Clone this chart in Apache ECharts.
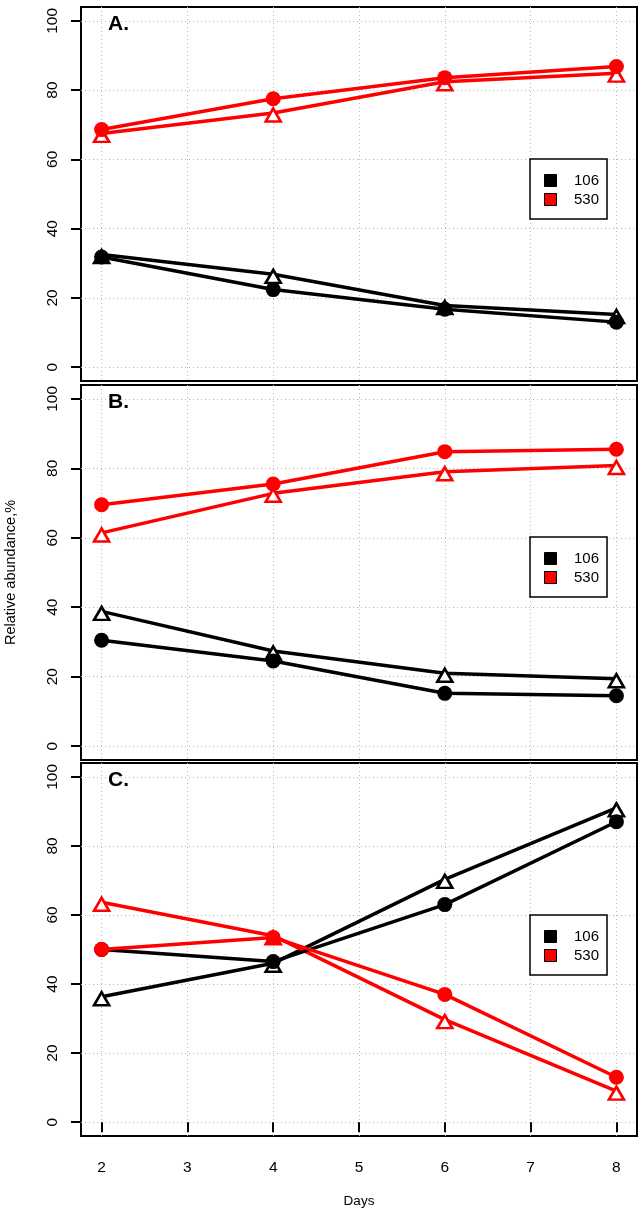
<!DOCTYPE html>
<html>
<head>
<meta charset="utf-8">
<script src="https://cdn.jsdelivr.net/npm/echarts@6/dist/echarts.min.js"></script>
<style>
  html, body { margin: 0; padding: 0; background: #fff; }
  #chart { width: 644px; height: 1222px; }
</style>
</head>
<body>
<div id="chart"></div>
<script>
// ---- data ----
const days = [2, 4, 6, 8];
const xTicks = [2, 3, 4, 5, 6, 7, 8];
const yTicks = [0, 20, 40, 60, 80, 100];
const panelLabels = ['A.', 'B.', 'C.'];
const legendNames = ['106', '530'];

// Panel A
const a106Circle   = [31.8, 22.4, 16.7, 13.0];
const a106Triangle = [32.5, 26.8, 17.8, 15.2];
const a530Circle   = [68.6, 77.5, 83.6, 86.8];
const a530Triangle = [67.5, 73.4, 82.4, 84.9];
// Panel B
const b106Circle   = [30.5, 24.5, 15.2, 14.5];
const b106Triangle = [38.8, 27.4, 21.0, 19.4];
const b530Circle   = [69.5, 75.5, 84.8, 85.5];
const b530Triangle = [61.4, 72.8, 79.0, 80.8];
// Panel C
const c106Circle   = [50.0, 46.5, 63.0, 87.0];
const c106Triangle = [36.3, 46.0, 70.3, 91.0];
const c530Circle   = [50.0, 53.5, 37.0, 13.0];
const c530Triangle = [63.7, 54.0, 29.7, 9.0];

const yTitle = 'Relative abundance,%';
const xTitle = 'Days';

// ---- layout / style ----
const FONT = "'Liberation Sans', Arial, Helvetica, sans-serif";
const colors = { '106': '#000000', '530': '#ff0000' };
const gridTops = [7, 385, 763];
const gridHeights = [374, 375, 373];
const panels = [
  { c106: a106Circle, t106: a106Triangle, c530: a530Circle, t530: a530Triangle },
  { c106: b106Circle, t106: b106Triangle, c530: b530Circle, t530: b530Triangle },
  { c106: c106Circle, t106: c106Triangle, c530: c530Circle, t530: c530Triangle }
];

const gridLine = { show: true, lineStyle: { color: '#b8b8b8', width: 1, type: [1, 3] } };

const grids = [], xAxes = [], yAxes = [], series = [], legends = [], graphics = [];
panels.forEach((p, i) => {
  grids.push({ left: 81, right: 7, top: gridTops[i], height: gridHeights[i],
    outerBoundsMode: 'none', containLabel: false,
    show: true, borderColor: '#000', borderWidth: 2, backgroundColor: 'transparent' });
  xAxes.push({
    gridIndex: i, type: 'value', min: 1.76, max: 8.24,
    axisLine: { show: false },
    axisTick: { show: i === 2, length: 10, lineStyle: { color: '#000', width: 2 }, customValues: xTicks },
    axisLabel: { show: i === 2, customValues: xTicks, margin: 24, fontSize: 15.5, color: '#000', fontFamily: FONT },
    splitLine: gridLine,
    name: i === 2 ? xTitle : '', nameLocation: 'middle', nameGap: 58,
    nameTextStyle: { fontSize: 13.5, color: '#000', fontFamily: FONT }
  });
  yAxes.push({
    gridIndex: i, type: 'value', min: -4, max: 104,
    axisLine: { show: false },
    axisTick: { show: true, length: 10, lineStyle: { color: '#000', width: 2 }, customValues: yTicks },
    axisLabel: { customValues: yTicks, rotate: 90, margin: 20, fontSize: 15.5, color: '#000', fontFamily: FONT },
    splitLine: gridLine,
    name: i === 1 ? yTitle : '', nameLocation: 'middle', nameGap: 63, nameRotate: 90,
    nameTextStyle: { fontSize: 14.5, color: '#000', fontFamily: FONT }
  });
  const mk = (name, vals, shape) => {
    const col = colors[name];
    const s = {
      type: 'line', name: name, xAxisIndex: i, yAxisIndex: i,
      data: days.map((d, k) => [d, vals[k]]),
      symbol: shape, showSymbol: true, silent: true,
      lineStyle: { color: col, width: 3.5 },
      emphasis: { disabled: true }
    };
    if (shape === 'circle') {
      s.symbolSize = 15;
      s.itemStyle = { color: col, borderWidth: 0 };
      s.z = 4;
    } else {
      s.symbolSize = [15, 13];
      s.symbolOffset = [0, 2];
      s.itemStyle = { color: '#fff', borderColor: col, borderWidth: 2.6 };
      s.z = 3;
    }
    return s;
  };
  series.push(mk('106', p.t106, 'triangle'));
  series.push(mk('530', p.t530, 'triangle'));
  series.push(mk('106', p.c106, 'circle'));
  series.push(mk('530', p.c530, 'circle'));

  legends.push({
    orient: 'vertical', left: 530, top: gridTops[i] + 152,
    data: legendNames.map(n => ({ name: n, icon: 'rect',
      itemStyle: { color: colors[n], borderColor: '#000', borderWidth: 1 } })),
    itemWidth: 12, itemHeight: 12, itemGap: 4,
    padding: [14, 8, 12, 14],
    borderColor: '#000', borderWidth: 1.5, backgroundColor: '#fff',
    textStyle: { fontSize: 15, color: '#000', fontFamily: FONT },
    formatter: n => '   ' + n,
    selectedMode: false, z: 10
  });

  graphics.push({
    type: 'text', left: 108, top: gridTops[i] + 7,
    style: { text: panelLabels[i], fontSize: 21, fontWeight: 'bold', fill: '#000', fontFamily: FONT },
    z: 20
  });
});

const chart = echarts.init(document.getElementById('chart'), null, { renderer: 'canvas' });
chart.setOption({
  animation: false,
  backgroundColor: '#fff',
  grid: grids, xAxis: xAxes, yAxis: yAxes,
  series: series, legend: legends, graphic: graphics
});
</script>
</body>
</html>
